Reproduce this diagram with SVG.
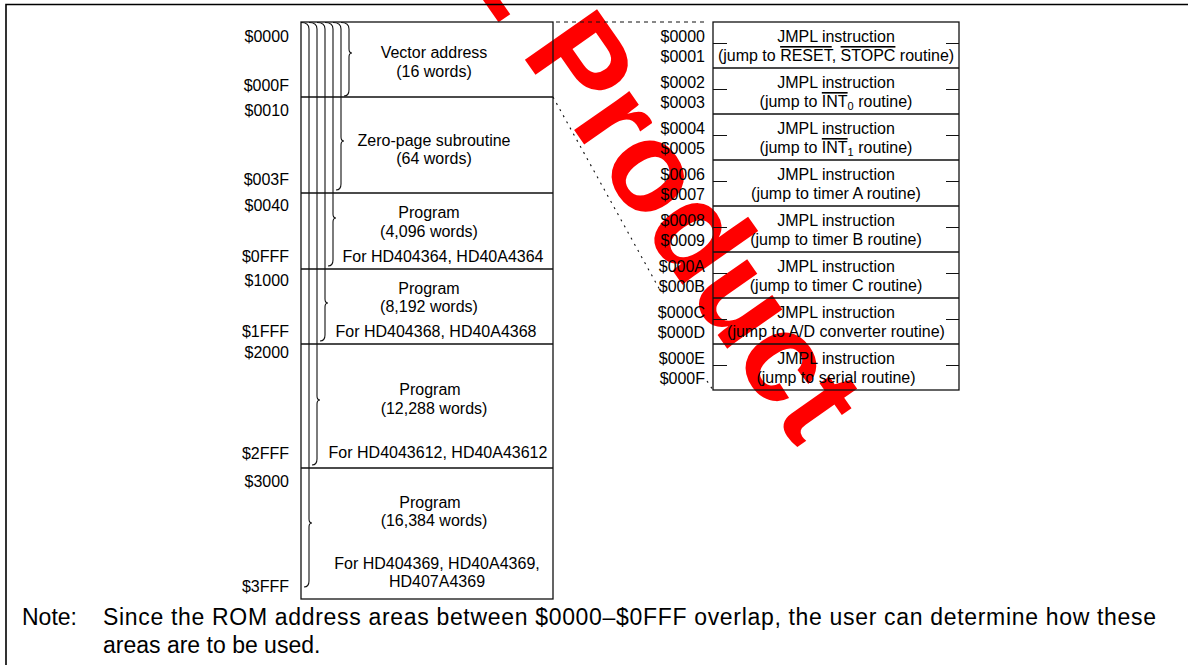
<svg xmlns="http://www.w3.org/2000/svg" width="1188" height="671" viewBox="0 0 1188 671">
<style>
text{font-family:"Liberation Sans",Arial,sans-serif;font-size:16px;fill:#000}
.c{text-anchor:middle}
.r{text-anchor:end}
.box{fill:none;stroke:#111;stroke-width:1.3}
.ln{stroke:#111;stroke-width:1.3}
.brace{fill:none;stroke:#111;stroke-width:1.1}
.tick{stroke:#111;stroke-width:1.1}
.dash{fill:none;stroke:#111;stroke-width:1.1;stroke-dasharray:4 4}
.dot{fill:none;stroke:#111;stroke-width:1.1;stroke-dasharray:2 5}
.ov{text-decoration:overline}
.note{font-size:23px}
.wm{font-size:128px;font-weight:bold;fill:#ff0000}
</style>
<rect width="1188" height="671" fill="#fff"/>
<text class="wm" transform="translate(350,-190) rotate(55)">EOL Product</text>
<path d="M6 665 V4.5 H1188" fill="none" stroke="#000" stroke-width="1.6"/>

<g id="rom-map">
<rect class="box" x="301" y="22" width="252" height="577"/>
<path class="ln" d="M301 97 H553 M301 193 H553 M301 269 H553 M301 344 H553 M301 468 H553"/>
<path class="brace" d="M341 22.5 Q349 22.5 349 29 L349 49 Q349 53 352 53 Q349 53 349 57 L349 90 Q349 96 344 96"/>
<path class="brace" d="M333 22.5 Q341 22.5 341 29 L341 137 Q341 141 344 141 Q341 141 341 145 L341 184 Q341 190 336 190"/>
<path class="brace" d="M325 22.5 Q333 22.5 333 29 L333 214 Q333 218 336 218 Q333 218 333 222 L333 260 Q333 266 328 266"/>
<path class="brace" d="M317 22.5 Q325 22.5 325 29 L325 299 Q325 303 328 303 Q325 303 325 307 L325 335 Q325 341 320 341"/>
<path class="brace" d="M309 22.5 Q317 22.5 317 29 L317 396 Q317 400 320 400 Q317 400 317 404 L317 459 Q317 465 312 465"/>
<path class="brace" d="M301 22.5 Q309 22.5 309 29 L309 519 Q309 523 312 523 Q309 523 309 527 L309 581 Q309 587 304 587"/>
</g>

<g id="vector-area">
<text class="r" x="289" y="42">$0000</text>
<text class="r" x="289" y="91">$000F</text>
<text class="c" x="434" y="58">Vector address</text>
<text class="c" x="434" y="77">(16 words)</text>
</g>
<g id="zero-page">
<text class="r" x="289" y="116">$0010</text>
<text class="r" x="289" y="185">$003F</text>
<text class="c" x="434" y="146">Zero-page subroutine</text>
<text class="c" x="434" y="164">(64 words)</text>
</g>
<g id="program-4096">
<text class="r" x="289" y="211">$0040</text>
<text class="r" x="289" y="262">$0FFF</text>
<text class="c" x="429" y="218">Program</text>
<text class="c" x="429" y="237">(4,096 words)</text>
<text class="c" x="443" y="262">For HD404364, HD40A4364</text>
</g>
<g id="program-8192">
<text class="r" x="289" y="286">$1000</text>
<text class="r" x="289" y="337">$1FFF</text>
<text class="c" x="429" y="294">Program</text>
<text class="c" x="429" y="312">(8,192 words)</text>
<text class="c" x="436" y="337">For HD404368, HD40A4368</text>
</g>
<g id="program-12288">
<text class="r" x="289" y="358">$2000</text>
<text class="r" x="289" y="459">$2FFF</text>
<text class="c" x="430" y="395">Program</text>
<text class="c" x="434" y="414">(12,288 words)</text>
<text class="c" x="438" y="458">For HD4043612, HD40A43612</text>
</g>
<g id="program-16384">
<text class="r" x="289" y="487">$3000</text>
<text class="r" x="289" y="592">$3FFF</text>
<text class="c" x="430" y="508">Program</text>
<text class="c" x="434" y="526">(16,384 words)</text>
<text class="c" x="437" y="569">For HD404369, HD40A4369,</text>
<text class="c" x="437" y="587">HD407A4369</text>
</g>

<g id="vector-table">
<rect class="box" x="713" y="22" width="246" height="368"/>
<path class="ln" d="M713 68 H959 M713 114 H959 M713 160 H959 M713 206 H959 M713 252 H959 M713 298 H959 M713 344 H959"/>
<path class="tick" d="M713 43.5 H727 M946 43.5 H959 M713 89.5 H727 M946 89.5 H959 M713 135.5 H727 M946 135.5 H959 M713 181.5 H727 M946 181.5 H959 M713 227.5 H727 M946 227.5 H959 M713 273.5 H727 M946 273.5 H959 M713 319.5 H727 M946 319.5 H959 M713 365.5 H727 M946 365.5 H959"/>
</g>
<g id="vec-reset">
<text class="r" x="705" y="42">$0000</text>
<text class="r" x="705" y="62">$0001</text>
<text class="c" x="836" y="42">JMPL instruction</text>
<text class="c" x="836" y="61">(jump to <tspan class="ov">RESET</tspan>, <tspan class="ov">STOPC</tspan> routine)</text>
</g>
<g id="vec-int0">
<text class="r" x="705" y="88">$0002</text>
<text class="r" x="705" y="108">$0003</text>
<text class="c" x="836" y="88">JMPL instruction</text>
<text class="c" x="836" y="107">(jump to <tspan class="ov">INT</tspan><tspan font-size="11" dy="3">0</tspan><tspan dy="-3"> routine)</tspan></text>
</g>
<g id="vec-int1">
<text class="r" x="705" y="134">$0004</text>
<text class="r" x="705" y="154">$0005</text>
<text class="c" x="836" y="134">JMPL instruction</text>
<text class="c" x="836" y="153">(jump to <tspan class="ov">INT</tspan><tspan font-size="11" dy="3">1</tspan><tspan dy="-3"> routine)</tspan></text>
</g>
<g id="vec-timer-a">
<text class="r" x="705" y="180">$0006</text>
<text class="r" x="705" y="200">$0007</text>
<text class="c" x="836" y="180">JMPL instruction</text>
<text class="c" x="836" y="199">(jump to timer A routine)</text>
</g>
<g id="vec-timer-b">
<text class="r" x="705" y="226">$0008</text>
<text class="r" x="705" y="246">$0009</text>
<text class="c" x="836" y="226">JMPL instruction</text>
<text class="c" x="836" y="245">(jump to timer B routine)</text>
</g>
<g id="vec-timer-c">
<text class="r" x="705" y="272">$000A</text>
<text class="r" x="705" y="292">$000B</text>
<text class="c" x="836" y="272">JMPL instruction</text>
<text class="c" x="836" y="291">(jump to timer C routine)</text>
</g>
<g id="vec-ad">
<text class="r" x="705" y="318">$000C</text>
<text class="r" x="705" y="338">$000D</text>
<text class="c" x="836" y="318">JMPL instruction</text>
<text class="c" x="836" y="337">(jump to A/D converter routine)</text>
</g>
<g id="vec-serial">
<text class="r" x="705" y="364">$000E</text>
<text class="r" x="705" y="384">$000F</text>
<text class="c" x="836" y="364">JMPL instruction</text>
<text class="c" x="836" y="383">(jump to serial routine)</text>
</g>

<g id="connectors">
<path class="dash" d="M556 22 H704"/>
<path class="dot" d="M553 97 L661 292"/>
<path class="dot" d="M707 381 L713 390"/>
</g>

<g id="note">
<text class="note" x="22" y="625">Note:</text>
<text class="note" x="103" y="625" textLength="1053" lengthAdjust="spacing">Since the ROM address areas between $0000–$0FFF overlap, the user can determine how these</text>
<text class="note" x="103" y="653">areas are to be used.</text>
</g>
</svg>
